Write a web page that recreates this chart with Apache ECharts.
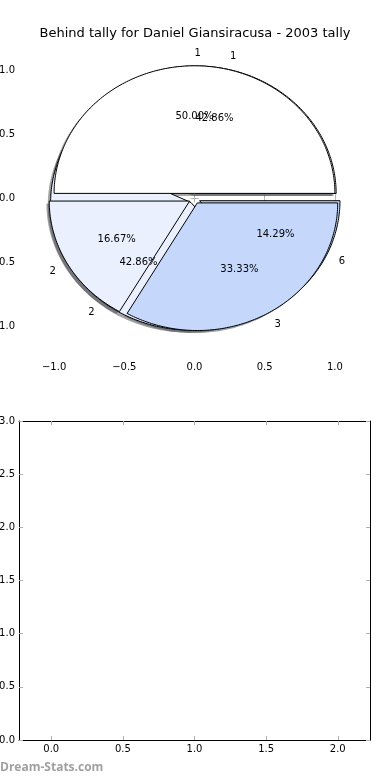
<!DOCTYPE html>
<html>
<head>
<meta charset="utf-8">
<script src="https://cdn.jsdelivr.net/npm/echarts@6/dist/echarts.min.js"></script>
<style>
html,body{margin:0;padding:0;background:#fff;}
#chart{width:390px;height:780px;}
</style>
</head>
<body>
<div id="chart"></div>
<script>
const titleText = 'Behind tally for Daniel Giansiracusa - 2003 tally';
// pie drawn underneath
const pieUnderLabels = ['1', '2', '6'];
const pieUnderValues = [3, 3, 1];
// pie drawn on top
const pieTopLabels = ['1', '2', '3'];
const pieTopValues = [3, 1, 2];
const wedgeColors = ['#ffffff', '#eaf0fe', '#c5d8fc'];
const explodeUnder = [0.04, 0.04, 0.04];
const explodeTop = [0.04, 0.04, 0.04];
const pieTicks = [-1, -0.5, 0, 0.5, 1];
const emptyXTicks = [0, 0.5, 1, 1.5, 2];
const emptyYMin = 0, emptyYMax = 3, emptyYStep = 0.5;
const watermark = 'Dream-Stats.com';

function buildWedges(values, explode) {
  const total = values.reduce((a, b) => a + b, 0);
  let acc = 0;
  return values.map((v, i) => {
    const t1 = acc / total * 360;
    acc += v;
    const t2 = acc / total * 360;
    const mid = (t1 + t2) / 2 * Math.PI / 180;
    return [t1, t2, explode[i] * Math.cos(mid), explode[i] * Math.sin(mid), i, v / total * 100];
  });
}
const wedgesUnder = buildWedges(pieUnderValues, explodeUnder);
const wedgesTop = buildWedges(pieTopValues, explodeTop);

function wedgePoints(api, off) {
  const t1 = api.value(0), t2 = api.value(1);
  const cx = api.value(2) + off, cy = api.value(3) + off;
  const pts = [api.coord([cx, cy])];
  const n = Math.max(2, Math.ceil(t2 - t1));
  for (let k = 0; k <= n; k++) {
    const a = (t1 + (t2 - t1) * k / n) * Math.PI / 180;
    pts.push(api.coord([cx + Math.cos(a), cy + Math.sin(a)]));
  }
  return pts;
}
function shade(hex) {
  const r = parseInt(hex.substr(1, 2), 16), g = parseInt(hex.substr(3, 2), 16), b = parseInt(hex.substr(5, 2), 16);
  return 'rgba(' + Math.round(r * 0.3) + ',' + Math.round(g * 0.3) + ',' + Math.round(b * 0.3) + ',0.5)';
}
function shadowRender(params, api) {
  return {type: 'polygon', shape: {points: wedgePoints(api, -0.02)},
    style: {fill: shade(wedgeColors[api.value(4)]), stroke: null}};
}
function wedgeRender(params, api) {
  return {type: 'polygon', shape: {points: wedgePoints(api, 0)},
    style: {fill: wedgeColors[api.value(4)], stroke: '#000', lineWidth: 1}};
}
function textRender(labels) {
  return function (params, api) {
    const t1 = api.value(0), t2 = api.value(1);
    const cx = api.value(2), cy = api.value(3);
    const mid = (t1 + t2) / 2 * Math.PI / 180;
    const lx = cx + 1.1 * Math.cos(mid), ly = cy + 1.1 * Math.sin(mid);
    const px = cx + 0.6 * Math.cos(mid), py = cy + 0.6 * Math.sin(mid);
    const lp = api.coord([lx, ly]), pp = api.coord([px, py]);
    const font = '10px "DejaVu Sans"';
    return {type: 'group', children: [
      {type: 'text', style: {text: labels[api.value(4)], x: lp[0], y: lp[1], align: lx > 0 ? 'left' : 'right', verticalAlign: 'middle', font: font, fill: '#000'}},
      {type: 'text', style: {text: api.value(5).toFixed(2) + '%', x: pp[0], y: pp[1], align: 'center', verticalAlign: 'middle', font: font, fill: '#000'}}
    ]};
  };
}
const fmt = v => (v < 0 ? '\u2212' : '') + Math.abs(v).toFixed(1);
const tickStyle = {show: true, inside: true, length: 4, lineStyle: {color: '#b0b0b0', width: 1}};
const lblStyle = {color: '#000', fontSize: 10, fontFamily: 'DejaVu Sans', formatter: fmt, margin: 4};

const chart = echarts.init(document.getElementById('chart'), null, {renderer: 'canvas'});
chart.setOption({
  animation: false,
  backgroundColor: '#fff',
  title: {text: titleText, left: 'center', top: 22, textStyle: {fontSize: 13, fontWeight: 'normal', fontFamily: 'DejaVu Sans', color: '#000'}},
  graphic: [{type: 'text', left: 0, top: 762, style: {text: watermark, font: 'bold 12px "Open Sans"', fill: '#a0a0a0'}}],
  grid: [
    {left: 19, top: 39, width: 351, height: 319, containLabel: false, outerBoundsMode: 'none'},
    {left: 19, top: 421, width: 351, height: 319, containLabel: false, outerBoundsMode: 'none'}
  ],
  xAxis: [
    {gridIndex: 0, type: 'value', min: -1.25, max: 1.25, position: 'bottom', axisLine: {show: false}, splitLine: {show: false},
      axisTick: Object.assign({customValues: pieTicks}, tickStyle), axisLabel: Object.assign({customValues: pieTicks}, lblStyle)},
    {gridIndex: 0, type: 'value', min: -1.25, max: 1.25, position: 'top', axisLine: {show: false}, splitLine: {show: false},
      axisTick: Object.assign({customValues: pieTicks}, tickStyle), axisLabel: {show: false}},
    {gridIndex: 1, type: 'value', min: -0.225, max: 2.225, position: 'bottom', axisLine: {show: true, onZero: false, lineStyle: {color: '#000', width: 1}}, splitLine: {show: false},
      axisTick: Object.assign({customValues: emptyXTicks}, tickStyle), axisLabel: Object.assign({customValues: emptyXTicks}, lblStyle)},
    {gridIndex: 1, type: 'value', min: -0.225, max: 2.225, position: 'top', axisLine: {show: true, onZero: false, lineStyle: {color: '#000', width: 1}}, splitLine: {show: false},
      axisTick: Object.assign({customValues: emptyXTicks}, tickStyle), axisLabel: {show: false}}
  ],
  yAxis: [
    {gridIndex: 0, type: 'value', min: -1.25, max: 1.25, position: 'left', axisLine: {show: false}, splitLine: {show: false},
      axisTick: Object.assign({customValues: pieTicks}, tickStyle), axisLabel: Object.assign({customValues: pieTicks}, lblStyle)},
    {gridIndex: 0, type: 'value', min: -1.25, max: 1.25, position: 'right', axisLine: {show: false}, splitLine: {show: false},
      axisTick: Object.assign({customValues: pieTicks}, tickStyle), axisLabel: {show: false}},
    {gridIndex: 1, type: 'value', min: emptyYMin, max: emptyYMax, interval: emptyYStep, position: 'left', axisLine: {show: true, onZero: false, lineStyle: {color: '#000', width: 1}}, splitLine: {show: false},
      axisTick: tickStyle, axisLabel: lblStyle},
    {gridIndex: 1, type: 'value', min: emptyYMin, max: emptyYMax, interval: emptyYStep, position: 'right', axisLine: {show: true, onZero: false, lineStyle: {color: '#000', width: 1}}, splitLine: {show: false},
      axisTick: tickStyle, axisLabel: {show: false}}
  ],
  series: [
    {type: 'custom', name: 'shadowUnder', xAxisIndex: 0, yAxisIndex: 0, z: 1, silent: true, clip: false, renderItem: shadowRender, data: wedgesUnder},
    {type: 'custom', name: 'shadowTop', xAxisIndex: 0, yAxisIndex: 0, z: 1, silent: true, clip: false, renderItem: shadowRender, data: wedgesTop},
    {type: 'custom', name: 'pieUnder', xAxisIndex: 0, yAxisIndex: 0, z: 2, silent: true, clip: false, renderItem: wedgeRender, data: wedgesUnder},
    {type: 'custom', name: 'pieTop', xAxisIndex: 0, yAxisIndex: 0, z: 3, silent: true, clip: false, renderItem: wedgeRender, data: wedgesTop},
    {type: 'custom', name: 'textUnder', xAxisIndex: 0, yAxisIndex: 0, z: 4, silent: true, clip: false, renderItem: textRender(pieUnderLabels), data: wedgesUnder},
    {type: 'custom', name: 'textTop', xAxisIndex: 0, yAxisIndex: 0, z: 4, silent: true, clip: false, renderItem: textRender(pieTopLabels), data: wedgesTop},
    {type: 'scatter', xAxisIndex: 2, yAxisIndex: 2, data: []}
  ]
});
</script>
</body>
</html>
